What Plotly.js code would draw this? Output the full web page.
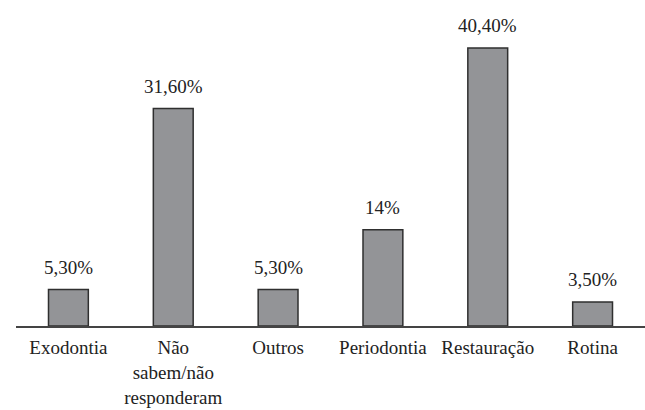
<!DOCTYPE html>
<html>
<head>
<meta charset="utf-8">
<script src="https://cdn.plot.ly/plotly-3.0.1.min.js"></script>
<style>html,body{margin:0;padding:0;background:#fff;}#chart{width:645px;height:410px;}</style>
</head>
<body>
<div id="chart"></div>
<script>
const categories = ["Exodontia", "Não<br>sabem/não<br>responderam", "Outros", "Periodontia", "Restauração", "Rotina"];
const values = [5.3, 31.6, 5.3, 14, 40.4, 3.5];
const valueLabels = ["5,30%", "31,60%", "5,30%", "14%", "40,40%", "3,50%"];

const serif = "Liberation Serif";

const trace = {
  type: "bar",
  x: categories,
  y: values,
  marker: {color: "#939497", line: {color: "#2f2f2f", width: 1.5}},
  hoverinfo: "none"
};

const annotations = categories.map((c, i) => ({
  x: c, y: values[i], xref: "x", yref: "y",
  text: valueLabels[i], showarrow: false,
  yanchor: "bottom", yshift: 10,
  font: {family: serif, size: 19, color: "#222"}
}));

const layout = {
  width: 645, height: 410,
  margin: {l: 16, r: 0, t: 10, b: 84},
  paper_bgcolor: "#fff", plot_bgcolor: "#fff",
  showlegend: false,
  bargap: 0.62,
  xaxis: {
    type: "category",
    showline: true, linecolor: "#444", linewidth: 1.5,
    ticks: "", showgrid: false, zeroline: false,
    ticklabelstandoff: 4,
    tickfont: {family: serif, size: 19, color: "#222"}
  },
  yaxis: {
    range: [0, 45.92], visible: false, showgrid: false, zeroline: false
  },
  annotations: annotations
};

Plotly.newPlot("chart", [trace], layout, {displayModeBar: false, staticPlot: true});
</script>
</body>
</html>
